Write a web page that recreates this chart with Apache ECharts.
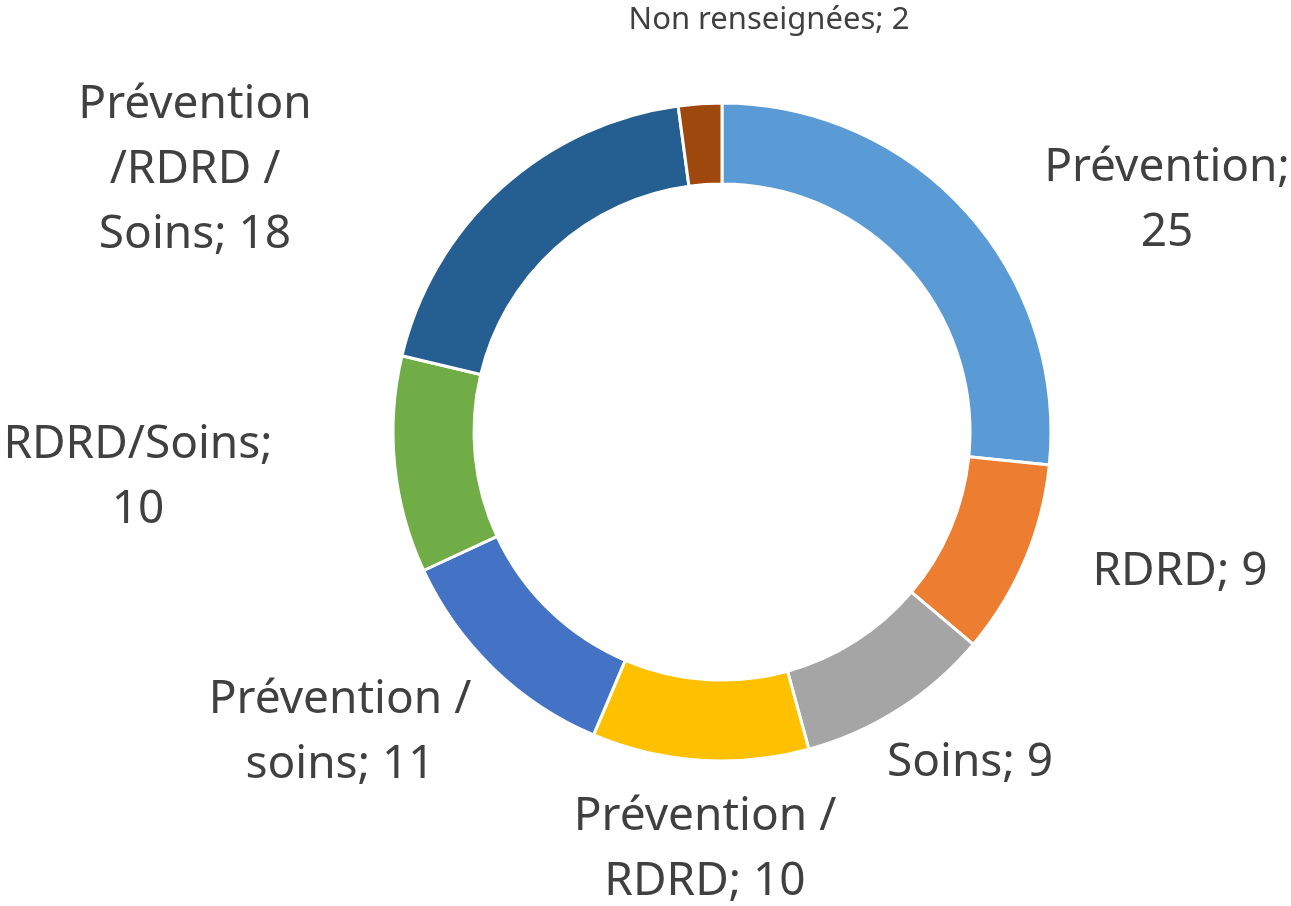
<!DOCTYPE html>
<html>
<head>
<meta charset="utf-8">
<script src="https://cdn.jsdelivr.net/npm/echarts@6/dist/echarts.min.js"></script>
<style>
  html, body { margin: 0; padding: 0; background: #fff; }
  #chart { width: 1291px; height: 906px; }
</style>
</head>
<body>
<div id="chart"></div>
<script>
// données du graphique
const categories = ['Prévention', 'RDRD', 'Soins', 'Prévention /\nRDRD', 'Prévention /\nsoins', 'RDRD/Soins', 'Prévention\n/RDRD /\nSoins', 'Non renseignées']
const values = [25, 9, 9, 10, 11, 10, 18, 2]
const colors = ['#5B9BD5', '#ED7D31', '#A5A5A5', '#FFC000', '#4472C4', '#70AD47', '#255E91', '#9E480E']

// position des étiquettes (centre du bloc de texte)
const labelPos = [
  [1167, 200], [1180, 572], [970, 763], [705, 849],
  [340, 732], [138, 477], [195, 170], [769, 20]
]
// retour à la ligne après le point-virgule pour certaines étiquettes
const breakAfter = [true, false, false, false, false, true, false, false]

const chart = echarts.init(document.getElementById('chart'))

const option = {
  animation: false,
  series: [
    {
      type: 'pie',
      center: [722, 432],
      radius: [248, 329],
      startAngle: 90,
      clockwise: true,
      avoidLabelOverlap: false,
      itemStyle: { borderColor: '#fff', borderWidth: 3 },
      label: {
        show: true,
        position: 'outside',
        color: '#404040',
        fontFamily: 'Noto Sans',
        fontSize: 46,
        lineHeight: 65,
        align: 'center',
        formatter: p => p.name + ';' + (breakAfter[p.dataIndex] ? '\n' : ' ') + p.value
      },
      labelLine: { show: false },
      labelLayout: p => ({
        x: labelPos[p.dataIndex][0],
        y: labelPos[p.dataIndex][1],
        align: 'center',
        verticalAlign: 'middle'
      }),
      data: categories.map((c, i) => ({
        name: c,
        value: values[i],
        itemStyle: { color: colors[i] },
        label: i === 7 ? { fontSize: 31, lineHeight: 36 } : undefined
      }))
    }
  ]
}

chart.setOption(option)
</script>
</body>
</html>
